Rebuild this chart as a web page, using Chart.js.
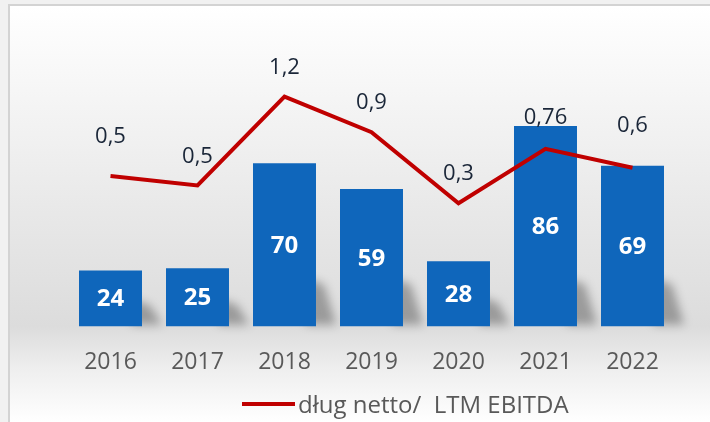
<!DOCTYPE html>
<html>
<head>
<meta charset="utf-8">
<script src="https://cdn.jsdelivr.net/npm/chart.js@4"></script>
<style>
html, body { margin: 0; padding: 0; width: 710px; height: 422px; overflow: hidden; background: #f1f1f1; }
#frame {
    position: absolute; left: 8px; top: 4px; width: 700px; height: 416px;
    border-left: 2px solid #d3d3d3; border-top: 2px solid #d3d3d3;
    background: linear-gradient(to bottom, #ffffff 0%, #f7f7f7 18%, #e8e8e8 50%, #dcdcdc 77%, #eeeeee 87%, #ffffff 100%);
}
canvas { display: block; }
</style>
</head>
<body>
<div id="frame"><canvas id="chart" width="700" height="416"></canvas></div>
<script>
const years = ['2016', '2017', '2018', '2019', '2020', '2021', '2022'];
const netDebt = [24, 25, 70, 59, 28, 86, 69];
const debtToEbitda = [0.53, 0.45, 1.2, 0.9, 0.3, 0.76, 0.6];
const debtToEbitdaLabels = ['0,5', '0,5', '1,2', '0,9', '0,3', '0,76', '0,6'];
const lineName = 'dług netto/  LTM EBITDA';

const FONT = '"Open Sans", sans-serif';

// gradient per bar, light at top, darker at the bottom
function barGradient(ctx) {
    const chart = ctx.chart;
    const el = ctx.element;
    if (!chart.chartArea || !el) return '#0f66bb';
    const top = el.y, bottom = el.base;
    if (!isFinite(top) || !isFinite(bottom) || top === bottom) return '#0f66bb';
    const g = chart.ctx.createLinearGradient(0, top, 0, bottom);
    g.addColorStop(0, '#1071cb');
    g.addColorStop(1, '#0c5aa5');
    return g;
}

// soft shadow behind the bottom right of each bar
const barShadow = {
    id: 'barShadow',
    beforeDatasetsDraw(chart) {
        const meta = chart.getDatasetMeta(1);
        const ctx = chart.ctx;
        ctx.save();
        ctx.filter = 'blur(5px)';
        ctx.fillStyle = 'rgba(0,0,0,0.30)';
        meta.data.forEach(bar => {
            const h = bar.base - bar.y;
            const sh = Math.min(48, h * 0.3 + 10);
            const right = bar.x + bar.width / 2;
            ctx.beginPath();
            ctx.moveTo(right - 10, bar.base - sh);
            ctx.lineTo(right + 8, bar.base - sh + 6);
            ctx.lineTo(right + 20, bar.base - 2);
            ctx.lineTo(right - 10, bar.base - 2);
            ctx.closePath();
            ctx.fill();
        });
        ctx.restore();
    }
};

// value labels: inside bars and above the line
const valueLabels = {
    id: 'valueLabels',
    afterDatasetsDraw(chart, args, opts) {
        const ctx = chart.ctx;
        ctx.save();
        ctx.textAlign = 'center';
        ctx.textBaseline = 'middle';

        ctx.font = 'bold 24px ' + FONT;
        ctx.fillStyle = '#ffffff';
        chart.getDatasetMeta(1).data.forEach((bar, i) => {
            ctx.fillText(String(netDebt[i]), bar.x, (bar.y + bar.base) / 2 + 1);
        });

        ctx.font = '22px ' + FONT;
        ctx.fillStyle = '#1a2638';
        chart.getDatasetMeta(0).data.forEach((pt, i) => {
            ctx.fillText(debtToEbitdaLabels[i], pt.x, pt.y - opts.offsets[i]);
        });
        ctx.restore();
    }
};

// legend for the line only, placed like in the original slide
const lineLegend = {
    id: 'lineLegend',
    afterDraw(chart, args, opts) {
        const ds = chart.data.datasets[0];
        const ctx = chart.ctx;
        ctx.save();
        ctx.strokeStyle = ds.borderColor;
        ctx.lineWidth = 4;
        ctx.beginPath();
        ctx.moveTo(opts.x, opts.y);
        ctx.lineTo(opts.x + opts.lineLength, opts.y);
        ctx.stroke();
        ctx.font = '24px ' + FONT;
        ctx.fillStyle = '#595959';
        ctx.textAlign = 'left';
        ctx.textBaseline = 'middle';
        ctx.fillText(ds.label, opts.x + opts.lineLength + 3, opts.y + 2);
        ctx.restore();
    }
};

new Chart(document.getElementById('chart'), {
    data: {
        labels: years,
        datasets: [
            {
                type: 'line',
                label: lineName,
                data: debtToEbitda,
                yAxisID: 'y1',
                borderColor: '#c00000',
                backgroundColor: '#c00000',
                borderWidth: 4,
                pointRadius: 0,
                tension: 0,
                order: 0
            },
            {
                type: 'bar',
                label: 'dług netto',
                data: netDebt,
                yAxisID: 'y',
                backgroundColor: barGradient,
                borderWidth: 0,
                categoryPercentage: 1,
                barPercentage: 0.724,
                order: 1
            }
        ]
    },
    options: {
        responsive: false,
        animation: false,
        layout: { padding: { left: 57, right: 34, top: 14, bottom: 24 } },
        scales: {
            x: {
                grid: { display: false, drawTicks: false },
                border: { display: false },
                ticks: { color: '#595959', font: { family: FONT, size: 23 }, padding: 22 }
            },
            y: { display: false, min: 0, max: 131.5 },
            y1: { display: false, min: -0.741, max: 1.848 }
        },
        plugins: {
            legend: { display: false },
            tooltip: { enabled: false },
            valueLabels: { offsets: [39, 29, 29, 29, 29, 31, 42] },
            lineLegend: { x: 232, y: 398, lineLength: 53 }
        }
    },
    plugins: [barShadow, valueLabels, lineLegend]
});
</script>
</body>
</html>
